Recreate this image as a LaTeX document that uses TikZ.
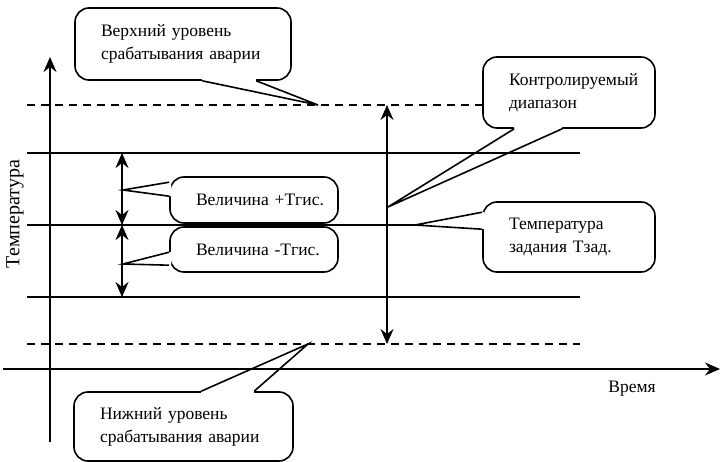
\documentclass[tikz,border=0pt]{standalone}
\usepackage{fontspec}
\setmainfont{Liberation Serif}
\usetikzlibrary{arrows.meta,calc}

\begin{document}
\begin{tikzpicture}[x=1pt, y=-1pt, >={Stealth[length=15pt,width=13pt,inset=5pt]},
  font=\fontsize{17.5}{23}\selectfont,
  level/.style={line width=1.6pt},
  alarm/.style={line width=1.6pt, dash pattern=on 8pt off 6pt},
  axis/.style={line width=2pt, ->},
  span/.style={line width=1.8pt, <->},
  callout/.style={draw, fill=white, line width=1.6pt, rounded corners=14pt,
    align=left, inner xsep=26pt, inner ysep=0pt},
  pointer/.style={line width=1.6pt, line join=miter}]
  \useasboundingbox (0,0) rectangle (720,462);

  % levels
  \coordinate (hiL) at (27,105);  \coordinate (hiR) at (580,105);
  \coordinate (upL) at (27,153);  \coordinate (upR) at (580,153);
  \coordinate (spL) at (27,225);  \coordinate (spR) at (580,225);
  \coordinate (dnL) at (27,297);  \coordinate (dnR) at (580,297);
  \coordinate (loL) at (27,344);  \coordinate (loR) at (580,344);
  \draw[alarm] (hiL) -- (hiR);
  \draw[alarm] (loL) -- (loR);
  \draw[level] (spL) -- (spR);

  % callouts
  \node[callout, minimum width=216pt, minimum height=72pt, text width=164pt] (upper) at (183,44)
    {Верхний уровень\\срабатывания аварии};
  \node[callout, minimum width=172pt, minimum height=71pt, text width=120pt] (range) at (569,92.5)
    {Контролируемый\\диапазон};
  \node[callout, minimum width=172pt, minimum height=70pt, text width=120pt] (setp) at (569,237)
    {Температура\\задания Тзад.};
  \node[callout, minimum width=168pt, minimum height=46pt, text width=116pt] (plus) at (254,200)
    {\mbox{Величина +Тгис.}};
  \node[callout, minimum width=168pt, minimum height=45pt, text width=116pt] (minus) at (254,249.5)
    {\mbox{Величина -Тгис.}};
  \node[callout, minimum width=219pt, minimum height=69pt, text width=167pt] (lower) at (183.5,426.5)
    {Нижний уровень\\срабатывания аварии};

  % pointers
  \coordinate (upA) at ($(upper.south west)+(128,0)$);
  \coordinate (upB) at ($(upper.south west)+(182,0)$);
  \coordinate (upT) at (318,105);
  \fill[white] (upA) -- (upT) -- (upB) -- ++(0,-2) -- ($(upA)+(0,-2)$) -- cycle;
  \draw[pointer] (upA) -- (upT) -- (upB);

  \coordinate (rgA) at ($(range.south west)+(32,0)$);
  \coordinate (rgB) at ($(range.south west)+(80,0)$);
  \coordinate (rgT) at (388,207);
  \fill[white] (rgA) -- (rgT) -- (rgB) -- ++(0,-2) -- ($(rgA)+(0,-2)$) -- cycle;
  \draw[pointer] (rgA) -- (rgT) -- (rgB);

  \coordinate (stA) at ($(setp.north west)+(0,11)$);
  \coordinate (stB) at ($(setp.north west)+(0,28)$);
  \coordinate (stT) at (415,225);
  \fill[white] (stA) -- (stT) -- (stB) -- ++(2,0) -- ($(stA)+(2,0)$) -- cycle;
  \draw[pointer] (stA) -- (stT) -- (stB);

  \coordinate (plA) at ($(plus.north west)+(0,6)$);
  \coordinate (plB) at ($(plus.north west)+(0,20)$);
  \coordinate (plT) at (123,190);
  \fill[white] (plA) -- (plT) -- (plB) -- ++(2,0) -- ($(plA)+(2,0)$) -- cycle;
  \draw[pointer] (plA) -- (plT) -- (plB);

  \coordinate (mnA) at ($(minus.north west)+(0,26)$);
  \coordinate (mnB) at ($(minus.north west)+(0,39)$);
  \coordinate (mnT) at (123,264);
  \fill[white] (mnA) -- (mnT) -- (mnB) -- ++(2,0) -- ($(mnA)+(2,0)$) -- cycle;
  \draw[pointer] (mnA) -- (mnT) -- (mnB);

  \coordinate (lwA) at ($(lower.north west)+(128,0)$);
  \coordinate (lwB) at ($(lower.north west)+(181,0)$);
  \coordinate (lwT) at (308,344);
  \fill[white] (lwA) -- (lwT) -- (lwB) -- ++(0,2) -- ($(lwA)+(0,2)$) -- cycle;
  \draw[pointer] (lwA) -- (lwT) -- (lwB);

  % hysteresis band
  \draw[level] (upL) -- (upR);
  \draw[level] (dnL) -- (dnR);

  % axes
  \coordinate (yBot) at (50,442);  \coordinate (yTop) at (50,57);
  \coordinate (xBeg) at (3,369);   \coordinate (xEnd) at (720,369);
  \draw[axis] (yBot) -- (yTop);
  \draw[axis] (xBeg) -- (xEnd);
  \node[rotate=90, font=\fontsize{20}{24}\selectfont] (tlabel) at (15,214) {Температура};
  \node (xlabel) at (632,389) {Время};

  % spans
  \coordinate (gpU) at (122,153);  \coordinate (gpM) at (122,225);  \coordinate (gpD) at (122,297);
  \draw[span] (gpU) -- (gpM);
  \draw[span] (gpM) -- (gpD);
  \coordinate (rnU) at (387,105);  \coordinate (rnD) at (387,344);
  \draw[span] (rnU) -- (rnD);
\end{tikzpicture}
\end{document}
